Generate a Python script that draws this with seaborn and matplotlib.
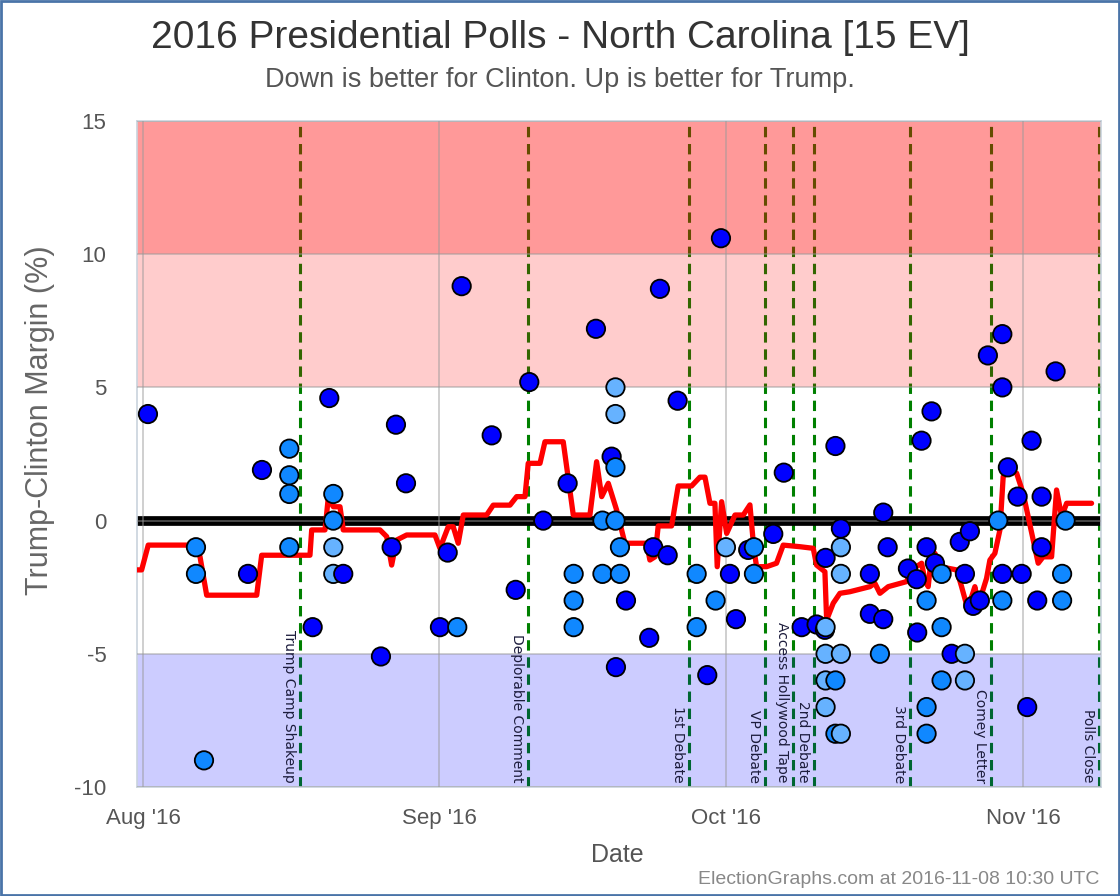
import matplotlib
matplotlib.use("Agg")
import matplotlib.pyplot as plt
import matplotlib.dates as mdates
from matplotlib.patches import Rectangle
import numpy as np
import pandas as pd
import seaborn as sns

# poll midpoints, days after 2016-08-01 00:00 UTC
START = pd.Timestamp("2016-08-01")

poll_day = [
    0.52, 5.54, 5.54, 6.38, 10.98, 12.44, 15.3, 15.3, 15.3, 15.3,
    17.74, 19.48, 19.9, 19.9, 19.9, 19.9, 20.94, 24.88, 26.0, 26.45,
    27.5, 31.05, 31.86, 32.86, 33.32, 36.46, 38.97, 40.39, 41.85, 44.4,
    45.03, 45.03, 45.03, 47.36, 48.04, 48.04, 49.0, 49.4, 49.4, 49.4,
    49.4, 49.45, 49.87, 49.87, 50.5, 52.93, 53.35, 54.05, 54.86, 55.9,
    57.89, 57.89, 59.0, 59.87, 60.43, 60.95, 61.37, 62.0, 63.28, 63.88,
    63.88, 65.9, 67.0, 68.87, 70.43, 71.3, 71.37, 71.37, 71.37, 71.37,
    71.37, 72.4, 72.4, 72.4, 72.97, 72.97, 72.97, 72.97, 72.97, 76.0,
    76.0, 77.05, 77.4, 77.4, 77.86, 79.98, 80.9, 80.95, 81.4, 81.93,
    81.93, 81.93, 81.93, 82.45, 82.8, 83.5, 83.5, 83.5, 84.55, 85.4,
    85.94, 85.94, 85.94, 86.46, 86.8, 87.5, 88.34, 89.42, 89.85, 89.85,
    89.85, 89.85, 90.43, 91.45, 91.87, 92.45, 92.91, 93.5, 93.96, 93.96,
    95.42, 96.1, 96.1, 96.46,
]
poll_margin = [
    4.0, -1.0, -2.0, -9.0, -2.0, 1.9, 2.7, 1.7, 1.0, -1.0,
    -4.0, 4.6, 1.0, 0.0, -1.0, -2.0, -2.0, -5.1, -1.0, 3.6,
    1.4, -4.0, -1.2, -4.0, 8.8, 3.2, -2.6, 5.2, 0.0, 1.4,
    -2.0, -3.0, -4.0, 7.2, 0.0, -2.0, 2.4, 5.0, 4.0, 2.0,
    0.0, -5.5, -1.0, -2.0, -3.0, -4.4, -1.0, 8.7, -1.3, 4.5,
    -2.0, -4.0, -5.8, -3.0, 10.6, -1.0, -2.0, -3.7, -1.1, -1.0,
    -2.0, -0.5, 1.8, -4.0, -3.9, -4.1, -1.4, -4.0, -5.0, -6.0,
    -7.0, 2.8, -6.0, -8.0, -0.3, -1.0, -2.0, -5.0, -8.0, -2.0,
    -3.5, -5.0, 0.3, -3.7, -1.0, -1.8, -2.2, -4.2, 3.0, -1.0,
    -3.0, -7.0, -8.0, 4.1, -1.6, -2.0, -4.0, -6.0, -5.0, -0.8,
    -2.0, -5.0, -6.0, -0.4, -3.2, -3.0, 6.2, 0.0, 7.0, 5.0,
    -2.0, -3.0, 2.0, 0.9, -2.0, -7.0, 3.0, -3.0, 0.9, -1.0,
    5.6, -2.0, -3.0, 0.0,
]
poll_kind = [
    "D", "M", "M", "M", "D", "D", "M", "M", "M", "M",
    "D", "D", "M", "M", "L", "L", "D", "D", "D", "D",
    "D", "D", "D", "M", "D", "D", "D", "D", "D", "D",
    "M", "M", "M", "D", "M", "M", "D", "L", "L", "M",
    "M", "D", "M", "M", "D", "D", "D", "D", "D", "D",
    "M", "M", "D", "M", "D", "L", "D", "D", "D", "M",
    "M", "D", "D", "D", "D", "D", "D", "L", "L", "L",
    "L", "D", "M", "M", "D", "L", "L", "L", "L", "D",
    "D", "M", "D", "D", "D", "D", "D", "D", "D", "D",
    "M", "M", "M", "D", "D", "M", "M", "M", "D", "D",
    "D", "L", "L", "D", "D", "D", "D", "M", "D", "D",
    "D", "M", "D", "D", "D", "D", "D", "D", "D", "D",
    "D", "M", "M", "M",
]

# running average (red line)
avg_day = [
    -0.63, -0.14, 0.55, 5.44, 5.96, 6.66, 11.89, 12.41, 17.46, 17.64,
    19.03, 19.37, 19.9, 20.6, 20.94, 24.78, 25.48, 26.0, 26.52, 27.57,
    30.53, 31.05, 31.92, 32.44, 32.96, 33.49, 35.93, 36.62, 38.37, 39.07,
    39.94, 40.28, 41.51, 42.03, 43.94, 44.99, 46.73, 47.43, 47.96, 48.65,
    49.52, 50.39, 52.66, 53.0, 53.53, 53.87, 55.27, 55.96, 57.36, 58.23,
    58.76, 59.28, 59.8, 60.04, 60.5, 61.03, 61.9, 62.76, 63.46, 63.88,
    64.16, 65.2, 66.24, 66.94, 68.69, 70.08, 70.43, 71.3, 71.48, 72.17,
    72.87, 73.91, 76.0, 76.52, 77.05, 77.92, 79.84, 80.36, 81.41, 81.75,
    82.1, 82.45, 82.8, 83.32, 85.07, 85.59, 86.12, 86.64, 86.98, 87.33,
    88.2, 88.55, 89.07, 89.6, 89.94, 90.64, 91.34, 92.03, 93.6, 94.12,
    95.0, 95.52, 96.05, 96.57, 99.18,
]
avg_margin = [
    -1.85, -1.85, -0.92, -0.92, -1.35, -2.8, -2.8, -1.3, -1.3, -0.35,
    -0.35, 0.84, 0.52, 0.52, -0.35, -0.35, -0.6, -1.67, -0.73, -0.54,
    -0.54, -1.04, -0.23, -0.23, -0.85, 0.21, 0.21, 0.58, 0.58, 0.9,
    0.9, 2.15, 2.15, 2.96, 2.96, 0.21, 0.21, 2.21, 0.9, 1.4,
    0.4, -0.85, -0.85, -1.48, -1.36, -0.2, -0.2, 1.3, 1.3, 1.63,
    1.63, 0.65, 0.65, -1.73, 0.71, -0.48, 0.21, 0.21, 0.59, -1.1,
    -1.73, -1.73, -1.6, -0.92, -0.98, -1.04, -1.67, -1.92, -3.73, -3.1,
    -2.73, -2.67, -2.48, -2.35, -2.73, -2.48, -2.29, -1.85, -1.6, -2.23,
    -2.48, -1.29, -1.23, -1.73, -1.85, -2.48, -3.17, -2.86, -2.48, -3.17,
    -2.17, -1.48, -1.23, -0.35, 1.65, 1.9, 1.78, 1.02, -1.6, -1.36,
    -1.36, 1.15, 0.15, 0.65, 0.65,
]

event_names = ["Trump Camp Shakeup", "Deplorable Comment", "1st Debate", "VP Debate",
               "Access Hollywood Tape", "2nd Debate", "3rd Debate", "Comey Letter", "Polls Close"]
event_dates = ["2016-08-17 10:00", "2016-09-10 06:00", "2016-09-27 03:00", "2016-10-05 02:00",
               "2016-10-08 00:00", "2016-10-10 03:00", "2016-10-20 04:00", "2016-10-28 17:00",
               "2016-11-09 00:00"]

sns.set_style("white")
plt.rcParams["font.family"] = ["Liberation Sans", "DejaVu Sans"]
plt.rcParams["axes.unicode_minus"] = False

polls = pd.DataFrame({
    "date": START + pd.to_timedelta(poll_day, unit="D"),
    "margin": poll_margin,
    "kind": poll_kind,
})
avg = pd.DataFrame({
    "date": START + pd.to_timedelta(avg_day, unit="D"),
    "margin": avg_margin,
})

fig = plt.figure(figsize=(11.2, 8.96), dpi=100)
ax = fig.add_axes([137 / 1120, 1 - 787 / 896, 964 / 1120, 666 / 896])

# event markers sit under the translucent bands
for name, d in zip(event_names, event_dates):
    t = pd.Timestamp(d)
    ax.axvline(t, color="#008000", lw=2.2, ls=(0, (3.4, 2.2)), zorder=1)
    ax.annotate(name, xy=(t, -10), xytext=(-3, 3), textcoords="offset points",
                rotation=270, ha="right", va="bottom", fontsize=10,
                family="DejaVu Sans", color="#1c1c3c", zorder=6)

ax.axhspan(10, 15, color="#ff0000", alpha=0.4, lw=0, zorder=2)
ax.axhspan(5, 10, color="#ff0000", alpha=0.2, lw=0, zorder=2)
ax.axhspan(-10, -5, color="#0000ff", alpha=0.2, lw=0, zorder=2)

ax.axhline(0, color="black", lw=7, zorder=2.4)
ax.set_axisbelow(False)
ax.grid(True, color="#999999", alpha=0.55, lw=1.2)

sns.lineplot(data=avg, x="date", y="margin", ax=ax, color="#ff0000", lw=3.8,
             sort=False, estimator=None, zorder=4)
sns.scatterplot(data=polls, x="date", y="margin", hue="kind",
                palette={"D": "#0000ff", "M": "#1088ff", "L": "#66b2ff"},
                s=175, edgecolor="black", linewidth=1.3, legend=False, ax=ax, zorder=5)

ax.set_xlim(pd.Timestamp("2016-07-31 09:00"), pd.Timestamp("2016-11-09 04:00"))
ax.set_ylim(-10, 15)
ax.set_yticks([-10, -5, 0, 5, 10, 15])
ax.set_xticks(pd.to_datetime(["2016-08-01", "2016-09-01", "2016-10-01", "2016-11-01"]))
ax.xaxis.set_major_formatter(mdates.DateFormatter("%b '%y"))
ax.tick_params(axis="y", length=0, pad=22, labelsize=16, labelcolor="#555555")
ax.tick_params(axis="x", length=0, pad=15, labelsize=16, labelcolor="#555555")
for sp in ax.spines.values():
    sp.set_color("#c9d3dd")
    sp.set_linewidth(1.2)

ax.set_xlabel("Date", fontsize=18, color="#555555")
ax.set_ylabel("Trump-Clinton Margin (%)", fontsize=22, color="#666666")
ax.xaxis.set_label_coords(0.498, -(843 - 787) / 666)
ax.yaxis.set_label_coords(-(137 - 55) / 964, 0.551)

fig.text(0.5, 0.958, "2016 Presidential Polls - North Carolina [15 EV]",
         ha="center", va="center", fontsize=28, color="#333333")
fig.text(0.5, 0.911, "Down is better for Clinton. Up is better for Trump.",
         ha="center", va="center", fontsize=19.5, color="#555555")
fig.text(0.982, 0.018, "ElectionGraphs.com at 2016-11-08 10:30 UTC",
         ha="right", va="center", fontsize=14, color="#888888")

fig.add_artist(Rectangle((0.001, 0.001), 0.998, 0.998, transform=fig.transFigure,
                         fill=False, edgecolor="#4a74a8", lw=2))

fig.savefig("out.png", dpi=100)
